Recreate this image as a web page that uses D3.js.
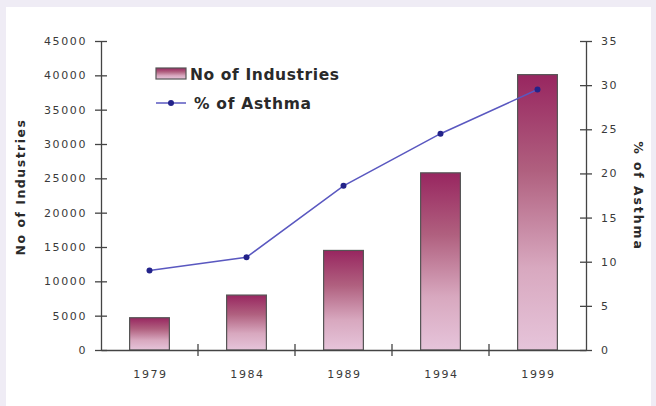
<!DOCTYPE html>
<html>
<head>
<meta charset="utf-8">
<script src="https://cdn.jsdelivr.net/npm/d3@7/dist/d3.min.js"></script>
<style>
  html, body { margin: 0; padding: 0; background: #efecf5; }
  svg { display: block; }
  text { font-family: "DejaVu Sans", "Liberation Sans", Arial, sans-serif; }
</style>
</head>
<body>
<script>
// Data
const years = ["1979", "1984", "1989", "1994", "1999"];
const industries = [4700, 8000, 14500, 25800, 40100];
const asthma = [9.0, 10.5, 18.6, 24.5, 29.5];
const leftTicks = [0, 5000, 10000, 15000, 20000, 25000, 30000, 35000, 40000, 45000];
const rightTicks = [0, 5, 10, 15, 20, 25, 30, 35];

const W = 656, H = 406;
const svg = d3.select("body").append("svg").attr("width", W).attr("height", H);

// White chart panel
svg.append("rect").attr("x", 6).attr("y", 7).attr("width", 645).attr("height", 410).attr("fill", "#ffffff");

const x0 = 101, x1 = 586, yTop = 41, yBot = 350;

const x = d3.scaleBand().domain(years).range([x0, x1]).paddingInner(0).paddingOuter(0);
const yL = d3.scaleLinear().domain([0, 45000]).range([yBot, yTop]);
const yR = d3.scaleLinear().domain([0, 35]).range([yBot, yTop]);

// Bar gradient
const defs = svg.append("defs");
const grad = defs.append("linearGradient").attr("id", "barGrad")
  .attr("x1", 0).attr("y1", 0).attr("x2", 0).attr("y2", 1);
grad.append("stop").attr("offset", "0%").attr("stop-color", "#982660");
grad.append("stop").attr("offset", "35%").attr("stop-color", "#b0607f");
grad.append("stop").attr("offset", "70%").attr("stop-color", "#d8a8bf");
grad.append("stop").attr("offset", "100%").attr("stop-color", "#e6c4da");

const axisColor = "#444";
const labelColor = "#3a3a3a";
const tickFont = "11px";
const tickSpacing = "1.6px";

// Bars
const barW = x.bandwidth() * 0.41;
svg.append("g").selectAll("rect").data(years).join("rect")
  .attr("x", d => x(d) + (x.bandwidth() - barW) / 2)
  .attr("y", (d, i) => yL(industries[i]))
  .attr("width", barW)
  .attr("height", (d, i) => yBot - yL(industries[i]))
  .attr("fill", "url(#barGrad)")
  .attr("stroke", "#555")
  .attr("stroke-width", 1.2);

// Left axis
const gL = svg.append("g").attr("transform", `translate(${x0},0)`)
  .call(d3.axisLeft(yL).tickValues(leftTicks).tickSize(0).tickPadding(14).tickFormat(d3.format("d")));
gL.select(".domain").attr("stroke", axisColor).attr("stroke-width", 1.3);
gL.selectAll(".tick").append("line").attr("x1", -6).attr("x2", 6).attr("stroke", axisColor).attr("stroke-width", 1.3);
gL.selectAll(".tick text").attr("fill", labelColor).style("font-size", tickFont).style("letter-spacing", tickSpacing);

// Right axis
const gR = svg.append("g").attr("transform", `translate(${x1},0)`)
  .call(d3.axisRight(yR).tickValues(rightTicks).tickSize(0).tickPadding(15));
gR.select(".domain").attr("stroke", axisColor).attr("stroke-width", 1.3);
gR.selectAll(".tick").append("line").attr("x1", -6).attr("x2", 6).attr("stroke", axisColor).attr("stroke-width", 1.3);
gR.selectAll(".tick text").attr("fill", labelColor).style("font-size", tickFont).style("letter-spacing", tickSpacing);

// Bottom axis
const gB = svg.append("g").attr("transform", `translate(0,${yBot})`)
  .call(d3.axisBottom(x).tickSize(0).tickPadding(20));
gB.select(".domain").attr("stroke", axisColor).attr("stroke-width", 1.3);
gB.selectAll(".tick text").attr("fill", labelColor).style("font-size", tickFont).style("letter-spacing", tickSpacing)
  .attr("dx", "1px");
// category separator ticks
gB.append("g").selectAll("line").data(years.slice(1)).join("line")
  .attr("x1", d => x(d)).attr("x2", d => x(d))
  .attr("y1", -6).attr("y2", 6)
  .attr("stroke", axisColor).attr("stroke-width", 1.3);

// Asthma line
const lineGen = d3.line()
  .x((d, i) => x(years[i]) + x.bandwidth() / 2)
  .y(d => yR(d));
svg.append("path").datum(asthma)
  .attr("d", lineGen)
  .attr("fill", "none")
  .attr("stroke", "#5a58c0")
  .attr("stroke-width", 1.5);
svg.append("g").selectAll("circle").data(asthma).join("circle")
  .attr("cx", (d, i) => x(years[i]) + x.bandwidth() / 2)
  .attr("cy", d => yR(d))
  .attr("r", 3)
  .attr("fill", "#23238a");

// Axis titles
svg.append("text")
  .attr("transform", `translate(25,187) rotate(-90)`)
  .attr("text-anchor", "middle")
  .attr("fill", "#2a2a2a")
  .style("font-size", "12.5px").style("font-weight", "bold").style("letter-spacing", "1.5px")
  .text("No of Industries");
svg.append("text")
  .attr("transform", `translate(634,196) rotate(90)`)
  .attr("text-anchor", "middle")
  .attr("fill", "#2a2a2a")
  .style("font-size", "12.5px").style("font-weight", "bold").style("letter-spacing", "1.9px")
  .text("% of Asthma");

// Legend
const lg = svg.append("g");
lg.append("rect").attr("x", 156).attr("y", 68).attr("width", 30).attr("height", 11)
  .attr("fill", "url(#barGrad)").attr("stroke", "#555").attr("stroke-width", 1.2);
lg.append("text").attr("x", 190).attr("y", 79.5).attr("fill", "#2a2a2a")
  .style("font-size", "15.5px").style("font-weight", "bold").style("letter-spacing", "0.6px")
  .text("No of Industries");
lg.append("line").attr("x1", 156).attr("x2", 186).attr("y1", 103).attr("y2", 103)
  .attr("stroke", "#5a58c0").attr("stroke-width", 1.5);
lg.append("circle").attr("cx", 171).attr("cy", 103).attr("r", 3).attr("fill", "#23238a");
lg.append("text").attr("x", 194).attr("y", 109).attr("fill", "#2a2a2a")
  .style("font-size", "15.5px").style("font-weight", "bold").style("letter-spacing", "0.7px")
  .text("% of Asthma");
</script>
</body>
</html>
